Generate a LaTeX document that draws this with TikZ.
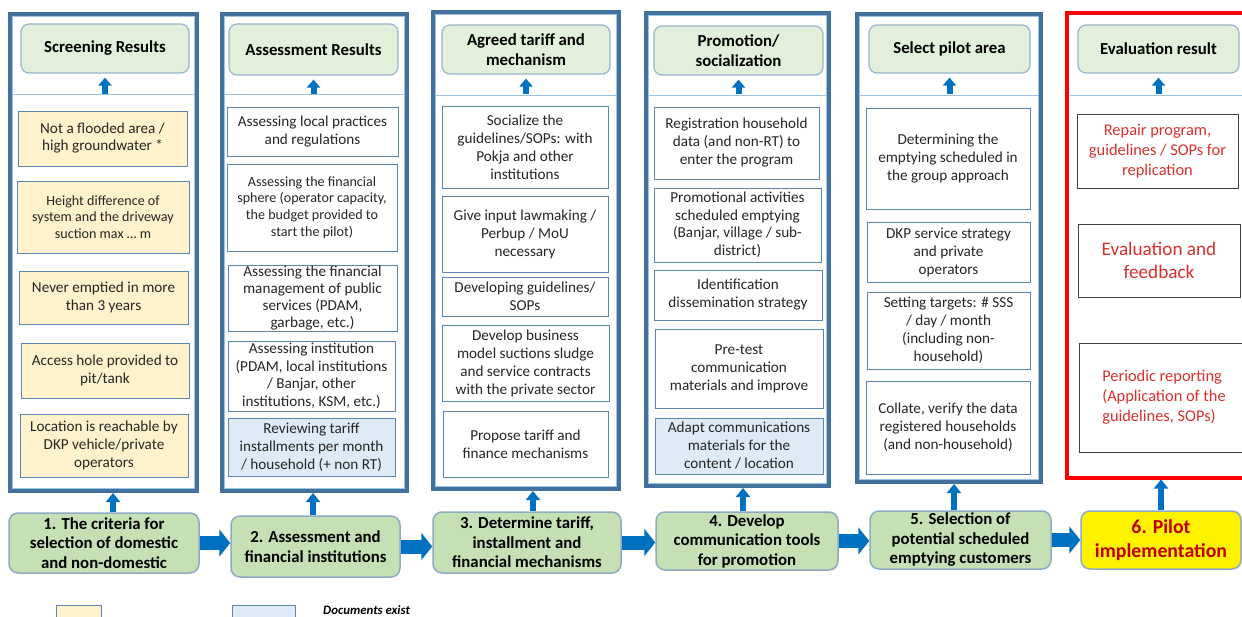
\documentclass[tikz,border=0pt]{standalone}
\usepackage{fontspec}
\setmainfont{Carlito}
\usetikzlibrary{arrows.meta}
\definecolor{frameblue}{HTML}{41719C}
\definecolor{sepblue}{HTML}{9DC3E6}
\definecolor{hdrfill}{HTML}{E2EFDA}
\definecolor{hdrdraw}{HTML}{98B4CB}
\definecolor{stepfill}{HTML}{C5E0B4}
\definecolor{stepdraw}{HTML}{8EAAC4}
\definecolor{boxdraw}{HTML}{5B86B2}
\definecolor{yfill}{HTML}{FFF2CC}
\definecolor{bfill}{HTML}{DEEBF7}
\definecolor{arrowblue}{HTML}{0070C0}
\definecolor{redtext}{HTML}{DA302B}
\definecolor{darkred}{HTML}{C00000}
\definecolor{framered}{HTML}{FF0000}
\definecolor{textcol}{HTML}{262626}
\definecolor{greybox}{HTML}{404040}
\begin{document}
\begin{tikzpicture}[x=1pt,y=-1pt,
  every node/.style={text=textcol},
  % area=x1/y1/x2/y2 : a node covering that rectangle
  area/.style args={#1/#2/#3/#4}{at={({(#1+#3)/2},{(#2+#4)/2})},
    minimum width={(#3-#1)*1pt}, minimum height={(#4-#2)*1pt}},
  bodytxt/.style={font=\fontsize{15.2}{18}\selectfont},
  smalltxt/.style={font=\fontsize{14.1}{16.7}\selectfont},
  colframe/.style={draw=frameblue, line width=4pt, fill=white, inner sep=0pt,
    path picture={\draw[sepblue, line width=0.8pt]
      ([shift={(2.6pt,-2.6pt)}]path picture bounding box.north west) rectangle
      ([shift={(-2.6pt,2.6pt)}]path picture bounding box.south east);}},
  redframe/.style={draw=framered, line width=4pt, fill=white, inner sep=0pt},
  hdr/.style={draw=hdrdraw, line width=1.2pt, fill=hdrfill, rounded corners=8pt,
    inner sep=0pt, align=center, text=black, font=\bfseries\fontsize{16.8}{20}\selectfont},
  itembox/.style={draw=boxdraw, line width=0.9pt, fill=white, inner sep=0pt,
    align=center, bodytxt},
  yitem/.style={itembox, fill=yfill},
  bitem/.style={itembox, fill=bfill},
  ritem/.style={itembox, draw=greybox, text=redtext, font=\fontsize{16.4}{20}\selectfont},
  stepnode/.style={draw=stepdraw, line width=1.5pt, fill=stepfill, rounded corners=9pt,
    inner sep=0pt, align=center, text=black, font=\bfseries\fontsize{16.8}{19.5}\selectfont},
  pilotnode/.style={stepnode, fill=yellow, text=darkred,
    font=\bfseries\fontsize{19.8}{23.5}\selectfont},
  sepline/.style={draw=sepblue, line width=0.8pt},
  toparrow/.style={draw=arrowblue, line width=6pt, -{Triangle[width=13pt,length=8pt]}},
  botarrow/.style={draw=arrowblue, line width=6.5pt, -{Triangle[width=14pt,length=9pt]}},
  rightarrow/.style={draw=arrowblue, line width=14pt, -{Triangle[width=27pt,length=11pt]}},
]
\useasboundingbox (0,0) rectangle (1242,617);
\clip (0,0) rectangle (1242,617);
\fill[white] (0,0) rectangle (1242,617);

% ---------- column frames ----------
\node[colframe, area=10/14/197/491] (f1) {};
\node[colframe, area=222/14/407/491] (f2) {};
\node[colframe, area=433/12/619/489] (f3) {};
\node[colframe, area=646/13/829/486] (f4) {};
\node[colframe, area=857/14/1041/482] (f5) {};
\node[redframe, area=1067/13/1270/477.5] (f6) {};

% separators under the result headers
\draw[sepline] (13,94) -- (194,94);
\draw[sepline] (225,94) -- (404,94);
\draw[sepline] (436,95) -- (616,95);
\draw[sepline] (649,95) -- (826,95);
\draw[sepline] (860,95) -- (1038,95);
\draw[sepline] (1070,95) -- (1242,95);
\coordinate (sepy) at (0,94.5);

% ---------- result headers ----------
\node[hdr, area=21/24/189/73] (h1) {Screening Results};
\node[hdr, area=229/24/398/75] (h2) {Assessment Results};
\node[hdr, area=442/25/610/74] (h3) {Agreed tariff and\\mechanism};
\node[hdr, area=654/26/823/75] (h4) {Promotion/\\socialization};
\node[hdr, area=869/25/1030/73] (h5) {Select pilot area};
\node[hdr, area=1078/25/1239/73] (h6) {Evaluation result};

\foreach \h in {h1,h2,h3,h4,h5,h6}
  \draw[toparrow] (\h.south |- sepy) -- ([yshift=-4pt]\h.south);

% ---------- column 1: screening criteria ----------
\node[yitem, font=\fontsize{15.2}{17}\selectfont, area=18/111/187/166] (c1a) {Not a flooded area /\\high groundwater *};
\node[yitem, smalltxt, area=17/181/189/253] (c1b) {Height difference of\\system and the driveway\\suction max … m};
\node[yitem, area=19/271/188/324] (c1c) {Never emptied in more\\than 3 years};
\node[yitem, area=21/343/189/398] (c1d) {Access hole provided to\\pit/tank};
\node[yitem, area=20/414/188/477] (c1e) {Location is reachable by\\DKP vehicle/private\\operators};

% ---------- column 2: assessment ----------
\node[itembox, area=227/107/398/156] (c2a) {Assessing local practices\\and regulations};
\node[itembox, smalltxt, area=227/164/397/251] (c2b) {Assessing the financial\\sphere (operator capacity,\\the budget provided to\\start the pilot)};
\node[itembox, font=\fontsize{15.2}{16.8}\selectfont, area=228/265/397/331] (c2c) {Assessing  the financial\\management of public\\services (PDAM,\\garbage, etc.)};
\node[itembox, font=\fontsize{15.2}{17.5}\selectfont, area=228/341/395/411] (c2d) {Assessing  institution\\(PDAM, local institutions\\/ Banjar, other\\institutions, KSM, etc.)};
\node[bitem, area=228/418/395/476] (c2e) {Reviewing tariff\\installments per month\\/ household (+ non RT)};

% ---------- column 3: tariff ----------
\node[itembox, area=442/106/608/188] (c3a) {Socialize the\\guidelines/SOPs: with\\Pokja and other\\institutions};
\node[itembox, area=442/196/608/272] (c3b) {Give input lawmaking /\\Perbup / MoU\\necessary};
\node[itembox, area=442/277/608/316] (c3c) {Developing guidelines/\\SOPs};
\node[itembox, area=442/325/609/401] (c3d) {Develop business\\model suctions sludge\\and service contracts\\with the private sector};
\node[itembox, area=443/411/608/477] (c3e) {Propose tariff and\\finance mechanisms};

% ---------- column 4: promotion ----------
\node[itembox, area=654/107/819/179] (c4a) {Registration household\\data (and non-RT) to\\enter the program};
\node[itembox, font=\fontsize{15.2}{17.5}\selectfont, area=654/188/821/262] (c4b) {Promotional activities\\scheduled emptying\\(Banjar, village / sub-\\district)};
\node[itembox, area=654/270/822/320] (c4c) {Identification\\dissemination strategy};
\node[itembox, area=655/329/823/408] (c4d) {Pre-test\\communication\\materials and improve};
\node[bitem, area=655/418/823/474] (c4e) {Adapt communications\\materials for the\\content / location};

% ---------- column 5: pilot area ----------
\node[itembox, area=866/108/1030/209] (c5a) {Determining the\\emptying scheduled in\\the group approach};
\node[itembox, area=867/222/1030/282] (c5b) {DKP service strategy\\and private\\operators};
\node[itembox, area=867/292/1030/369] (c5c) {Setting targets: \# SSS\\/ day / month\\(including non-\\household)};
\node[itembox, area=866/381/1030/474] (c5d) {Collate, verify the data\\registered households\\(and non-household)};

% ---------- column 6: evaluation ----------
\node[ritem, area=1077/114/1238/188] (c6a) {Repair program,\\guidelines / SOPs for\\replication};
\node[ritem, font=\fontsize{19.2}{23}\selectfont, area=1078/224/1240/297] (c6b) {Evaluation and\\feedback};
\node[ritem, align=left, area=1079/343/1249/452] (c6c) {Periodic reporting\\(Application of the\\guidelines, SOPs)};

% ---------- process steps ----------
\node[stepnode, area=9/513/199/573] (s1) {1. The criteria for\\selection of domestic\\and non-domestic};
\node[stepnode, area=231/516/400/577] (s2) {2. Assessment and\\financial institutions};
\node[stepnode, area=433/512/621/573] (s3) {3. Determine tariff,\\installment and\\financial mechanisms};
\node[stepnode, area=656/512/838/570] (s4) {4. Develop\\communication tools\\for promotion};
\node[stepnode, area=870/511/1051/569] (s5) {5. Selection of\\potential scheduled\\emptying customers};
\node[pilotnode, area=1081/511/1241/569] (s6) {6. Pilot\\implementation};

% arrows from each step up to its column
\coordinate (ax1) at (113,0);
\coordinate (ax2) at (313,0);
\coordinate (ax3) at (533,0);
\coordinate (ax4) at (743,0);
\coordinate (ax5) at (954,0);
\coordinate (ax6) at (1161,0);
\foreach \i in {1,...,6}
  \draw[botarrow] (s\i.north -| ax\i) -- (f\i.south -| ax\i);

% arrows between the steps
\foreach \i/\j in {1/2,2/3,3/4,4/5,5/6}
  \draw[rightarrow] (s\i.east) -- (s\i.east -| s\j.west);

% ---------- legend ----------
\node[draw=boxdraw, fill=yfill, line width=0.9pt, inner sep=0pt, area=56/605/101/630] (legy) {};
\node[draw=boxdraw, fill=bfill, line width=0.9pt, inner sep=0pt, area=232/605/295/630] (legb) {};
\node[anchor=base west, inner sep=0pt, text=black, font=\bfseries\itshape\fontsize{12.8}{15}\selectfont] (legt) at (323,614.5) {Documents exist};
\end{tikzpicture}
\end{document}
